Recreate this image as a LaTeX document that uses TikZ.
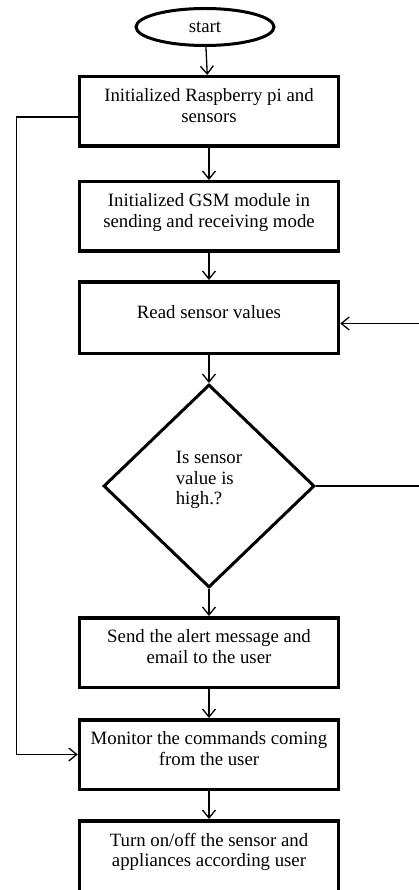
\documentclass[tikz,border=0pt]{standalone}
\usepackage{fontspec}
\setmainfont{Liberation Serif}
\usetikzlibrary{arrows.meta,positioning,shapes.geometric}

\begin{document}
\begin{tikzpicture}[x=1pt,y=-1pt,
  box/.style={draw,line width=3.5pt,minimum width=259pt,minimum height=69.5pt,
              align=center,text depth=12pt,inner sep=2pt},
  terminal/.style={ellipse,draw,line width=3pt,minimum width=138pt,
              minimum height=37pt,inner sep=0pt},
  decision/.style={diamond,draw,line width=3pt,minimum width=211pt,
              minimum height=203pt,inner sep=0pt,align=left,text depth=16pt},
  flow/.style={->,line width=1.3pt},
  >={Straight Barb[length=8pt,width=13pt]},
  font=\fontsize{18.8}{20.5}\selectfont]
\useasboundingbox (0,0) rectangle (419,890);
\node[terminal] (start) at (205,27) {start};
\node[box,below=28pt of start,xshift=4pt] (init) {Initialized Raspberry pi and\\sensors};
\node[box,below=32pt of init] (gsm) {Initialized GSM module in\\sending and receiving mode};
\node[box,below=27pt of gsm,minimum height=71.5pt] (read) {Read sensor values};
\node[decision,below=28pt of read] (high) {Is sensor\\value is\\high.?};
\node[box,below=27pt of high] (alert) {Send the alert message and\\email to the user};
\node[box,below=29pt of alert] (monitor) {Monitor the commands coming\\from the user};
\node[box,below=28pt of monitor,minimum height=76pt,text depth=18pt] (turn) {Turn on/off the sensor and\\appliances according user};
% straight flow
\draw[flow] (start) -- (init);
\draw[flow] (init) -- (gsm);
\draw[flow] (gsm) -- (read);
\draw[flow] (read) -- (high);
\draw[flow] (high) -- (alert);
\draw[flow] (alert) -- (monitor);
\draw[flow] (monitor) -- (turn);
% loops
\coordinate (lft) at ([xshift=-61pt,yshift=-5.5pt]init.west);
\coordinate (rgt) at ([xshift=114pt]high.east);
\draw[flow] ([yshift=-5.5pt]init.west) -- (lft) |- (monitor.west);
\draw[flow] (high.east) -- (rgt) |- ([yshift=-6pt]read.east);
\end{tikzpicture}
\end{document}
